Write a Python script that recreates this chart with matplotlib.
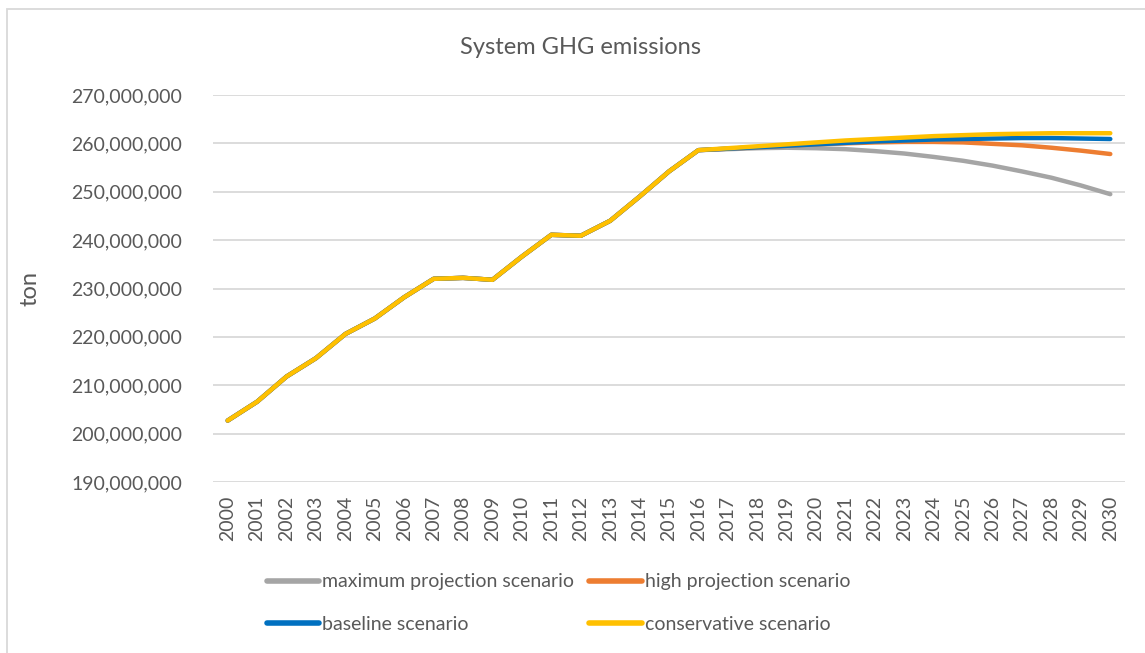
import numpy as np
import matplotlib.pyplot as plt
from matplotlib.patches import Rectangle
from matplotlib.ticker import FuncFormatter

plt.rcParams['font.family'] = ['Lato', 'DejaVu Sans']

years = list(range(2000, 2031))

# historic emissions 2000-2016 (million ton), shared by every scenario
historic = [202.7, 206.6, 211.8, 215.6, 220.6, 223.8, 228.2, 232.0, 232.2,
            231.8, 236.6, 241.1, 240.9, 244.0, 249.0, 254.2, 258.6]

# projections 2017-2030 (million ton)
maximum_proj = [258.8, 259.0, 259.1, 259.0, 258.8, 258.4, 257.9, 257.2,
                256.4, 255.4, 254.2, 252.9, 251.3, 249.5]
high_proj = [258.9, 259.2, 259.5, 259.8, 260.0, 260.2, 260.3, 260.3,
             260.2, 259.9, 259.6, 259.1, 258.5, 257.8]
baseline = [258.9, 259.2, 259.5, 259.8, 260.1, 260.4, 260.6, 260.8,
            260.9, 261.0, 261.1, 261.1, 261.0, 260.9]
conservative = [259.0, 259.4, 259.8, 260.2, 260.6, 260.9, 261.2, 261.5,
                261.7, 261.9, 262.0, 262.1, 262.1, 262.1]

series = [
    ('maximum projection scenario', maximum_proj, '#A5A5A5'),
    ('high projection scenario', high_proj, '#ED7D31'),
    ('baseline scenario', baseline, '#0070C0'),
    ('conservative scenario', conservative, '#FFC000'),
]

fig = plt.figure(figsize=(11.45, 6.53), dpi=100)
ax = fig.add_axes([213 / 1145, 1 - 482 / 653, 912 / 1145, 387 / 653])

x = np.arange(len(years))
lines = []
for name, proj, color in series:
    vals = np.array(historic + proj) * 1e6
    ln, = ax.plot(x, vals, color=color, lw=3.2, label=name,
                  solid_capstyle='round', solid_joinstyle='round')
    lines.append(ln)

ax.set_xlim(-0.5, len(years) - 0.5)
ax.set_ylim(190e6, 270e6)
ax.set_yticks(np.arange(190e6, 270e6 + 1, 10e6))
ax.yaxis.set_major_formatter(FuncFormatter(lambda v, p: f'{v:,.0f}'))
ax.set_xticks(x)
ax.set_xticklabels([str(y) for y in years], rotation=90)

ax.grid(axis='y', color='#D9D9D9', lw=1.3)
ax.set_axisbelow(True)
for s in ax.spines.values():
    s.set_visible(False)
ax.tick_params(length=0, colors='#595959', labelsize=14)
ax.tick_params(axis='y', pad=22)
ax.tick_params(axis='x', pad=10)

ax.set_ylabel('ton', fontsize=17, color='#595959', labelpad=22)
fig.text(0.507, 1 - 47 / 653, 'System GHG emissions', ha='center',
         va='center', fontsize=17, color='#595959')

# legend is filled column by column, so order entries to read row by row
order = [0, 2, 1, 3]
leg = fig.legend([lines[i] for i in order], [series[i][0] for i in order],
                 loc='upper left', bbox_to_anchor=(249 / 1145, 1 - 556 / 653),
                 ncol=2, frameon=False, fontsize=14, handlelength=2.7,
                 handletextpad=0.15, columnspacing=0.8, labelspacing=1.3)
for t in leg.get_texts():
    t.set_color('#595959')
for h in leg.legend_handles:
    h.set_linewidth(4)

# outer chart border
fig.patches.append(Rectangle((7 / 1145, -0.2), 1.2, 1 - 9 / 653 + 0.2,
                             transform=fig.transFigure, fill=False,
                             edgecolor='#D9D9D9', lw=1.3))

fig.savefig('out.png', dpi=100, facecolor='white')
